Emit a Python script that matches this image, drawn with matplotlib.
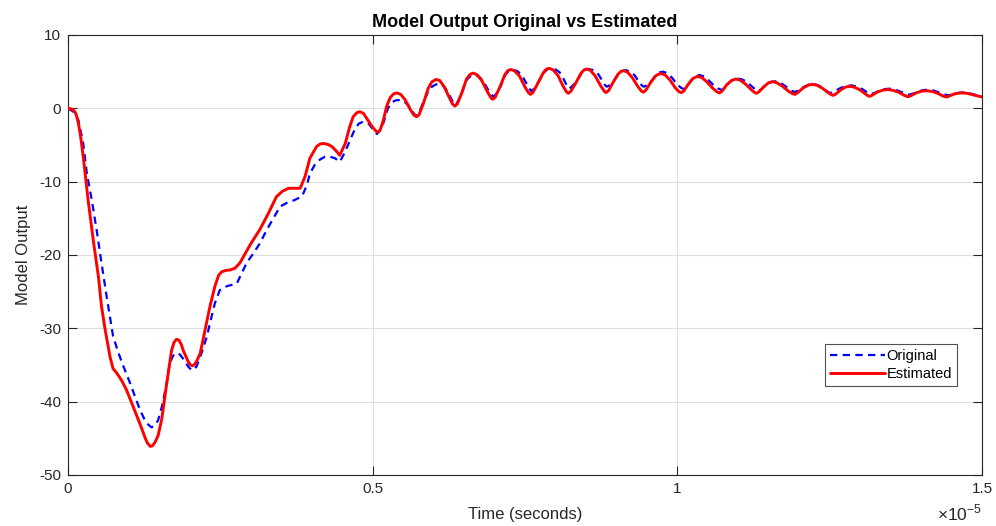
import matplotlib
matplotlib.use("Agg")
import matplotlib.pyplot as plt
import numpy as np

plt.rcParams['font.family'] = ['Liberation Sans', 'DejaVu Sans']
plt.rcParams['axes.unicode_minus'] = False
plt.rcParams['mathtext.fontset'] = 'custom'
plt.rcParams['mathtext.rm'] = 'Liberation Sans'

# Estimated model output (time in microseconds)
est_t_us = [0, 0.04, 0.08, 0.115, 0.14, 0.17, 0.21, 0.25, 0.33, 0.415, 0.50, 0.55, 0.61,
            0.69, 0.74, 0.80, 0.88, 0.96, 1.07, 1.18, 1.26, 1.30, 1.35, 1.39, 1.43, 1.48,
            1.54, 1.62, 1.70, 1.74, 1.78, 1.82, 1.86, 1.89, 1.97, 2.01, 2.04, 2.07, 2.11,
            2.17, 2.25, 2.33, 2.41, 2.47, 2.52, 2.59, 2.66, 2.74, 2.82, 2.99, 3.15, 3.29,
            3.42, 3.52, 3.62, 3.72, 3.81, 3.89, 3.97, 4.08, 4.14, 4.19, 4.26, 4.33, 4.40,
            4.46,
            4.55, 4.62, 4.68, 4.74, 4.79, 4.85, 4.92, 5.00, 5.06, 5.09, 5.12, 5.17, 5.23,
            5.29, 5.35, 5.40, 5.46, 5.53, 5.62, 5.68, 5.72, 5.76, 5.83, 5.91, 5.97, 6.04,
            6.10, 6.17, 6.25, 6.31, 6.35, 6.39, 6.46, 6.54, 6.60, 6.65, 6.71, 6.79, 6.88,
            6.94, 6.97, 7.01, 7.09, 7.17, 7.22, 7.27, 7.33, 7.41, 7.50, 7.56, 7.59, 7.63,
            7.71, 7.80, 7.85, 7.90, 7.96, 8.04, 8.12, 8.18, 8.21, 8.25, 8.33, 8.42, 8.47,
            8.51, 8.57, 8.65, 8.74, 8.80, 8.83, 8.87, 8.95, 9.03, 9.08, 9.12, 9.18, 9.26,
            9.35, 9.41, 9.44, 9.48, 9.56, 9.64, 9.69, 9.74, 9.80, 9.88, 9.97, 10.03, 10.07,
            10.11, 10.18, 10.26, 10.33, 10.40, 10.48, 10.58, 10.65, 10.69, 10.73, 10.81,
            10.89, 10.96, 11.03, 11.12, 11.22, 11.27, 11.30, 11.34, 11.42, 11.50, 11.56,
            11.63, 11.72, 11.83, 11.89, 11.93, 11.97, 12.06, 12.15, 12.22, 12.29, 12.38,
            12.48, 12.53, 12.56, 12.60, 12.68, 12.76, 12.83, 12.90, 12.99, 13.09, 13.13,
            13.16, 13.20, 13.29, 13.38, 13.46, 13.54, 13.63, 13.73, 13.79, 13.84, 13.93,
            14.02, 14.10, 14.18, 14.27, 14.37, 14.42, 14.47, 14.56, 14.65, 14.73, 14.82,
            14.91, 15.00]
est_y = [0, -0.05, -0.2, -0.5, -1.0, -2.0, -4.0, -6.6, -12.5, -18.0, -23.0, -27.0, -30.2,
         -33.9, -35.5, -36.1, -37.1, -38.4, -40.7, -43.0, -44.8, -45.6, -46.1, -46.0, -45.5,
         -44.6, -42.3, -37.5, -33.0, -31.9, -31.5, -31.6, -32.2, -33.0, -34.5, -35.0, -35.1,
         -35.0, -34.5, -33.4, -30.2, -27.0, -24.3, -22.8, -22.3, -22.1, -22.05, -21.8,
         -21.1, -18.6, -16.5, -14.3, -12.05, -11.3, -10.9, -10.9, -10.9, -9.3, -6.8, -5.2,
         -4.85, -4.8, -4.9, -5.2, -5.8, -6.4,
         -4.8, -2.6, -1.15, -0.6, -0.46, -0.7, -1.6, -2.6, -3.15, -3.25, -3.0, -1.8, 0.3,
         1.5, 2.0, 2.1, 1.9, 1.2, -0.2, -0.95, -1.15, -0.9, 0.6, 2.7, 3.6, 3.95,
         3.8, 3.0, 1.6, 0.6, 0.3, 0.6, 2.05, 4.0, 4.65, 4.8, 4.6, 3.8, 2.3,
         1.45, 1.23, 1.5, 2.95, 4.6, 5.15, 5.3, 5.1, 4.4, 2.9, 2.1, 1.9, 2.15,
         3.4, 4.85, 5.35, 5.45, 5.25, 4.5, 3.1, 2.25, 2.05, 2.3, 3.4, 4.8, 5.25,
         5.36, 5.2, 4.45, 3.1, 2.35, 2.15, 2.4, 3.6, 4.7, 5.05, 5.13, 4.95, 4.2,
         3.0, 2.35, 2.2, 2.45, 3.5, 4.4, 4.65, 4.72, 4.55, 3.85, 2.75, 2.25, 2.15,
         2.4, 3.3, 4.1, 4.35, 4.2, 3.65, 2.75, 2.25, 2.1, 2.3, 3.2,
         3.8, 4.0, 3.85, 3.3, 2.5, 2.15, 2.05, 2.25, 2.95, 3.5, 3.63,
         3.5, 3.05, 2.3, 2.0, 1.9, 2.1, 2.75, 3.17, 3.28, 3.15, 2.75,
         2.1, 1.85, 1.77, 1.95, 2.5, 2.9, 3.0, 2.9, 2.55, 1.95, 1.7,
         1.64, 1.8, 2.25, 2.5, 2.56, 2.45, 2.2, 1.75, 1.58, 1.75, 2.15,
         2.35, 2.4, 2.3, 2.05, 1.65, 1.54, 1.7, 2.0, 2.1, 2.08, 1.92,
         1.72, 1.56]

# Original model output (time in microseconds)
orig_t_us = [0, 0.09, 0.17, 0.25, 0.31, 0.39, 0.47, 0.55, 0.635, 0.74, 0.83, 0.91, 1.02,
             1.10, 1.18, 1.26, 1.30, 1.37, 1.43, 1.48, 1.54, 1.62, 1.67, 1.72, 1.76, 1.80,
             1.84, 1.92, 1.98, 2.03, 2.07, 2.11, 2.19, 2.28, 2.33, 2.41, 2.49, 2.56, 2.63,
             2.77, 2.93, 3.04, 3.15, 3.26, 3.37, 3.48, 3.59, 3.72, 3.84, 3.92, 3.97, 4.05,
             4.14, 4.22, 4.30, 4.38, 4.46,
             4.55, 4.63, 4.70, 4.77, 4.85, 4.93, 5.00, 5.07, 5.12, 5.18, 5.25, 5.32, 5.38,
             5.45, 5.52, 5.58, 5.64, 5.69, 5.72, 5.76, 5.83, 5.91, 5.98, 6.05, 6.12, 6.19,
             6.26, 6.32, 6.35, 6.39, 6.46, 6.54, 6.61, 6.67, 6.74, 6.81, 6.89, 6.95, 6.98,
             7.02, 7.10, 7.18, 7.24, 7.30, 7.37, 7.44, 7.51, 7.57, 7.60, 7.64, 7.72, 7.81,
             7.87, 7.93, 8.00, 8.07, 8.14, 8.19, 8.22, 8.26, 8.34, 8.43, 8.49, 8.55, 8.62,
             8.69, 8.76, 8.81, 8.84, 8.88, 8.96, 9.04, 9.10, 9.16, 9.23, 9.30, 9.37, 9.42,
             9.45, 9.49, 9.57, 9.65, 9.71, 9.77, 9.84, 9.92, 10.00, 10.07, 10.11, 10.15,
             10.21, 10.29, 10.36, 10.44, 10.51, 10.59, 10.67, 10.73, 10.78, 10.84, 10.91,
             10.98, 11.06, 11.14, 11.22, 11.29, 11.33, 11.38, 11.47, 11.54, 11.61, 11.69,
             11.77, 11.86, 11.93, 11.99, 12.07, 12.15, 12.23, 12.31, 12.39, 12.46, 12.51,
             12.57, 12.66, 12.76, 12.86, 12.95, 13.04, 13.12, 13.18, 13.24, 13.33, 13.41,
             13.49, 13.58, 13.67, 13.75, 13.81, 13.88, 13.97, 14.05, 14.13, 14.21, 14.30,
             14.39, 14.45, 14.52, 14.62, 14.73, 14.82, 14.91, 15.00]
orig_y = [0, -0.46, -1.6, -4.8, -8.9, -12.5, -16.6, -21.1, -25.7, -31.1, -33.4, -35.2,
          -37.5, -39.3, -41.1, -42.5, -43.0, -43.5, -43.2, -42.5, -40.7, -37.5, -34.8,
          -33.8, -33.4, -33.4, -33.6, -34.5, -35.3, -35.7, -35.6, -35.2, -33.4, -31.1,
          -29.3, -26.6, -24.8, -24.4, -24.2, -23.9, -21.1, -19.8, -18.4, -16.6, -15.0,
          -13.4, -12.9, -12.5, -12.0, -10.5, -8.9, -7.7, -6.95, -6.6, -6.6, -6.8, -7.3,
          -5.9, -4.3, -3.0, -2.1, -1.8, -2.05, -2.8, -3.5, -3.0, -1.9, 0.0, 0.85, 1.1,
          1.13, 0.9, 0.45, -0.25, -0.85, -1.05, -0.7, 0.9, 2.26, 3.0, 3.3, 3.3, 2.8,
          1.8, 0.8, 0.45, 0.8, 2.05, 3.86, 4.45, 4.6, 4.35, 3.8, 2.6, 1.85, 1.59,
          1.9, 3.0, 4.6, 5.15, 5.25, 5.1, 4.6, 3.6, 2.7, 2.36, 2.6, 3.6, 4.85,
          5.35, 5.45, 5.3, 4.9, 3.9, 3.0, 2.7, 2.9, 3.6, 4.8, 5.25, 5.36, 5.2,
          4.8, 3.9, 3.2, 2.95, 3.1, 3.8, 4.7, 5.1, 5.2, 5.0, 4.5, 3.6, 3.1,
          2.95, 3.1, 3.7, 4.5, 4.9, 5.0, 4.75, 4.1, 3.2, 2.75, 2.63, 2.85,
          3.63, 4.3, 4.54, 4.35, 3.86, 3.2, 2.7, 2.5, 2.75, 3.4, 3.9,
          4.1, 3.95, 3.63, 3.0, 2.5, 2.36, 2.6, 3.3, 3.6, 3.68, 3.5,
          3.05, 2.45, 2.22, 2.45, 2.9, 3.2, 3.3, 3.15, 2.8, 2.3, 2.09,
          2.25, 2.7, 3.05, 3.13, 2.95, 2.6, 2.15, 1.95, 2.1, 2.45, 2.63,
          2.68, 2.55, 2.25, 1.98, 1.86, 2.05, 2.35, 2.5, 2.54, 2.42, 2.15,
          1.88, 1.77, 1.92, 2.12, 2.18, 2.0, 1.8, 1.64]

x_ticks = [0, 0.5e-5, 1.0e-5, 1.5e-5]
x_tick_labels = ['0', '0.5', '1', '1.5']
y_ticks = [-50, -40, -30, -20, -10, 0, 10]

axis_color = '#262626'

fig = plt.figure(figsize=(9.96, 5.26), dpi=100)
ax = fig.add_axes([68 / 996, 51 / 526, 914 / 996, 440 / 526])

ax.plot(np.array(orig_t_us) * 1e-6, orig_y, color='#0000ff', lw=1.6,
        linestyle=(0, (3.3, 2.4)), label='Original', zorder=3)
ax.plot(np.array(est_t_us) * 1e-6, est_y, color='#ff0000', lw=2.1,
        label='Estimated', zorder=4, solid_capstyle='round', solid_joinstyle='round')

ax.set_xlim(0, 1.5e-5)
ax.set_ylim(-50, 10)
ax.set_xticks(x_ticks)
ax.set_xticklabels(x_tick_labels)
ax.set_yticks(y_ticks)

ax.grid(True, color='#dfdfdf', linewidth=0.8)
ax.set_axisbelow(True)

for s in ax.spines.values():
    s.set_color(axis_color)
    s.set_linewidth(0.8)
ax.tick_params(direction='in', length=6.5, width=0.8, colors=axis_color,
               labelsize=11, top=True, right=True, pad=5)

ax.set_title('Model Output Original vs Estimated', fontsize=13, fontweight='bold',
             color='black', pad=6)
ax.set_xlabel('Time (seconds)', fontsize=12, color=axis_color, labelpad=8)
ax.set_ylabel('Model Output', fontsize=12, color=axis_color, labelpad=6)

# exponent for the x-axis tick values
ax.text(1.0, -0.104, '\u00d710$^{-5}$', transform=ax.transAxes, ha='right',
        va='baseline', fontsize=12.5, color=axis_color)

leg = ax.legend(loc='lower right', bbox_to_anchor=(0.973, 0.202), borderaxespad=0,
                fontsize=10.5, frameon=True, fancybox=False, edgecolor=axis_color,
                handlelength=3.8, handletextpad=0.1, labelspacing=0.25,
                borderpad=0.35)
leg.get_frame().set_linewidth(0.8)

fig.savefig('out.png', dpi=100)
